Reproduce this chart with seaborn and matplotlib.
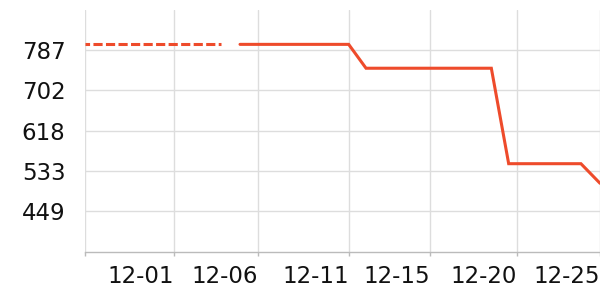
import matplotlib
matplotlib.use("Agg")
import matplotlib.pyplot as plt
import seaborn as sns
import pandas as pd

# data (x in axis index units, y in value units)
dashed_x = [0.0, 7.92]
dashed_y = [799, 799]
solid_x = [9.03, 15.36, 16.37, 23.67, 24.68, 28.89, 30.0]
solid_y = [799, 799, 749, 749, 549, 549, 508]

xtick_pos = [0.0, 5.20, 10.09, 15.36, 20.11, 25.15, 30.0]
xtick_labels = ["", "12-01", "12-06", "12-11", "12-15", "12-20", "12-25"]
ytick_vals = [449.0, 533.5, 618.0, 702.5, 787.0]
ytick_labels = ["449", "533", "618", "702", "787"]

sns.set_theme(style="white")
plt.rcParams["font.family"] = ["DejaVu Sans"]

fig = plt.figure(figsize=(6, 3), dpi=100)
ax = fig.add_axes([85 / 600, 48 / 300, 515 / 600, 242 / 300])

color = "#EE4B2B"
df_d = pd.DataFrame({"x": dashed_x, "y": dashed_y})
df_s = pd.DataFrame({"x": solid_x, "y": solid_y})
sns.lineplot(data=df_d, x="x", y="y", ax=ax, color=color, lw=2.2,
             linestyle=(1.5, (3.0, 1.1)), zorder=3)
sns.lineplot(data=df_s, x="x", y="y", ax=ax, color=color, lw=2.2, zorder=3,
             solid_joinstyle="miter")

ax.set_xlim(0, 30)
ax.set_ylim(364, 871)
ax.set_xticks(xtick_pos)
ax.set_xticklabels(xtick_labels, ha="right", fontsize=16.5, color="#111111")
ax.set_yticks(ytick_vals)
ax.set_yticklabels(ytick_labels, fontsize=16.5, color="#111111")
ax.set_xlabel("")
ax.set_ylabel("")

ax.grid(True, color="#dddddd", lw=1)
ax.set_axisbelow(True)
for s in ["top", "right", "left"]:
    ax.spines[s].set_visible(False)
ax.spines["bottom"].set_color("#bbbbbb")
ax.spines["bottom"].set_linewidth(1)
ax.tick_params(axis="x", length=3, color="#bbbbbb", width=1, pad=6.5, bottom=True)
ax.tick_params(axis="y", length=0, pad=14)

fig.savefig("out.png", dpi=100)
